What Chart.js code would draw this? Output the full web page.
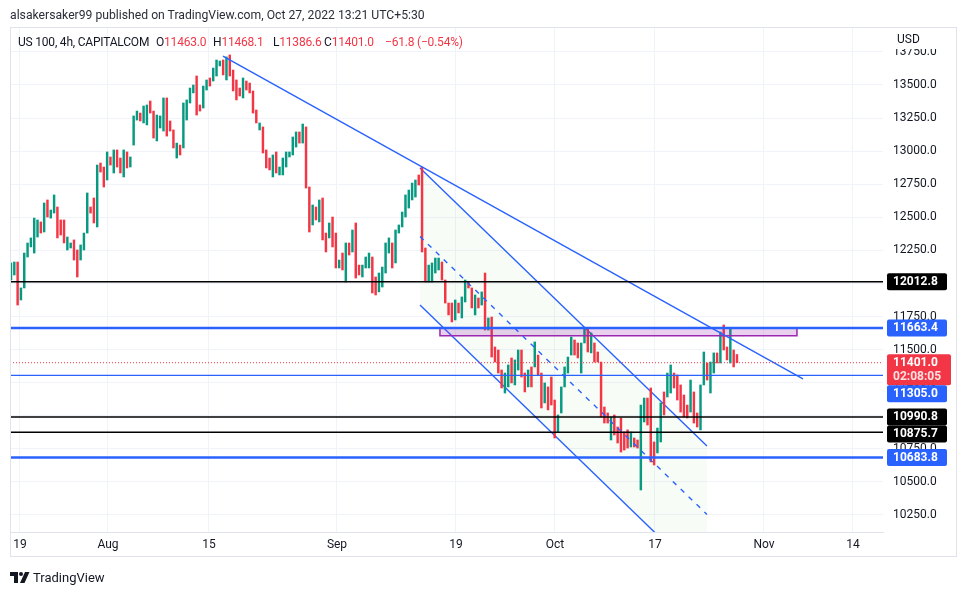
<!DOCTYPE html>
<html>
<head>
<meta charset="utf-8">
<script src="https://cdn.jsdelivr.net/npm/chart.js@4.4.1/dist/chart.umd.min.js"></script>
<style>
  body { margin: 0; background: #fff; font-family: Roboto, "Liberation Sans", sans-serif; }
  #wrap { position: relative; width: 966px; height: 595px; overflow: hidden; }
  #chart { position: absolute; left: 0; top: 0; }
  .t { position: absolute; white-space: pre; color: #131722; font-size: 12px; line-height: 16px; letter-spacing: -0.2px; }
  .r { color: #f23645; }
</style>
</head>
<body>
<div id="wrap">
  <canvas id="chart" width="966" height="595"></canvas>
  <div class="t" style="left:10px;top:7px;font-size:12.2px;color:#2a2e39;letter-spacing:0">alsakersaker99 published on TradingView.com, Oct 27, 2022 13:21 UTC+5:30</div>
  <div class="t" style="left:18px;top:34px">US 100, 4h, CAPITALCOM</div>
  <div class="t" style="left:156px;top:34px">O<span class="r">11463.0</span></div>
  <div class="t" style="left:213px;top:34px">H<span class="r">11468.1</span></div>
  <div class="t" style="left:273px;top:34px">L<span class="r">11386.6</span></div>
  <div class="t" style="left:324px;top:34px">C<span class="r">11401.0</span></div>
  <div class="t r" style="left:385px;top:34px">−61.8 (−0.54%)</div>
  <svg style="position:absolute;left:10px;top:572px" width="20" height="11" viewBox="0 0 20 11">
    <path d="M0 0h8v11h-4v-7h-4z" fill="#131722"/>
    <circle cx="11" cy="2" r="2" fill="#131722"/>
    <path d="M15 0h4.5l-5 11h-4.5z" fill="#131722"/>
  </svg>
  <div class="t" style="left:33px;top:570px;font-size:13px;letter-spacing:0">TradingView</div>
</div>

<script>
// 4h candles, Jul 18 - Oct 27 2022 (x = bar index)
const opens = [
  12026, 12064, 12162, 11875, 11966, 12200, 12276, 12230, 12351, 12465,
  12389, 12631, 12494, 12532, 12578, 12480, 12480, 12253, 12268, 12329,
  12253, 12177, 12253, 12381, 12578, 12646, 12427, 12910, 12880, 12782,
  12956, 12835, 13009, 12948, 12805, 12994, 12880, 13046, 13235, 13288,
  13213, 13198, 13379, 13303, 13077, 13175, 13152, 13402, 13228, 13160,
  12948, 13046, 13024, 13235, 13364, 13440, 13568, 13349, 13326, 13462,
  13553, 13530, 13568, 13644, 13689, 13538, 13727, 13613, 13538, 13477,
  13402, 13530, 13515, 13455, 13311, 13160, 13183, 13009, 12948, 12805,
  12994, 12820, 12820, 12880, 12956, 12971, 13031, 13145, 13061, 13183,
  12729, 12442, 12578, 12465, 12646, 12381, 12344, 12502, 12381, 12117,
  12230, 12011, 12306, 12238, 12457, 12139, 12049, 12117, 12117, 12200,
  12049, 11936, 11973, 12079, 12230, 12306, 12155, 12381, 12427, 12502,
  12570, 12631, 12653, 12820, 12880, 12268, 12011, 12011, 12079, 12102,
  12162, 12026, 11852, 11852, 11724, 11852, 11739, 11860, 12011, 11966,
  11762, 11890, 11837, 12079, 11648, 11746, 11520, 11497, 11346, 11172,
  11218, 11437, 11233, 11346, 11497, 11323, 11218, 11369, 11369, 11459,
  11323, 11097, 11218, 11293, 11119, 10877, 11021, 11218, 11323, 11459,
  11573, 11550, 11323, 11550, 11663, 11475, 11550, 11482, 11406, 11066,
  11021, 10817, 11006, 10915, 10983, 10877, 10893, 10764, 10832, 10817,
  10439, 10953, 11134, 11210, 10802, 10719, 10802, 11180, 11142, 11172,
  11323, 11308, 11233, 11157, 11081, 11028, 11180, 11021, 10893, 11233,
  11399, 11172, 11323, 11475, 11399, 11686, 11520, 11399, 11497, 11463
];
const closes = [
  12155, 12162, 11837, 11966, 12230, 12306, 12344, 12494, 12480, 12381,
  12608, 12502, 12555, 12669, 12344, 12366, 12306, 12351, 12306, 12177,
  12049, 12291, 12381, 12684, 12532, 12457, 12895, 12842, 12729, 12994,
  12895, 13009, 12880, 12835, 13009, 12873, 12956, 13266, 13303, 13228,
  13341, 13349, 13288, 13099, 13273, 13266, 13402, 13114, 13152, 13024,
  13061, 12971, 13364, 13387, 13477, 13500, 13273, 13303, 13492, 13538,
  13492, 13628, 13689, 13681, 13576, 13712, 13568, 13455, 13387, 13417,
  13553, 13462, 13440, 13288, 13213, 13213, 12986, 12873, 12858, 12971,
  12835, 12880, 12948, 12994, 12994, 13107, 13145, 13061, 13205, 12721,
  12389, 12593, 12480, 12631, 12329, 12238, 12457, 12276, 12117, 12177,
  12102, 12306, 12215, 12404, 12041, 12064, 12139, 12200, 12230, 11928,
  11913, 12079, 12124, 12306, 12344, 12117, 12404, 12442, 12540, 12669,
  12706, 12759, 12782, 12744, 12238, 12011, 12139, 12155, 12192, 12192,
  12026, 11852, 11762, 11709, 11875, 11777, 11898, 12026, 11966, 11815,
  11913, 11815, 11936, 11648, 11739, 11444, 11406, 11323, 11210, 11323,
  11384, 11248, 11422, 11497, 11293, 11180, 11346, 11218, 11558, 11308,
  11059, 11248, 11044, 11081, 10832, 11006, 11218, 11369, 11444, 11595,
  11459, 11437, 11550, 11663, 11482, 11626, 11406, 11406, 10991, 10945,
  10945, 10991, 10855, 10794, 10726, 10741, 10756, 10877, 10764, 10756,
  11081, 11134, 10930, 10651, 10628, 10907, 11097, 11006, 11323, 11384,
  11210, 11119, 11028, 10991, 10983, 11270, 10945, 10915, 11233, 11482,
  11270, 11406, 11475, 11399, 11633, 11497, 11422, 11663, 11369, 11401
];

const xTickPos = [2.71, 29.26, 59.73, 98.34, 134.24, 164.1, 194.27, 227.15, 254.0];
const xTickLabels = ['19', 'Aug', '15', 'Sep', '19', 'Oct', '17', 'Nov', '14'];
const yTicks = [10250, 10500, 10750, 11000, 11250, 11500, 11750, 12000, 12250, 12500, 12750, 13000, 13250, 13500, 13750];

// horizontal levels and the last price
const levels = [12012.8, 11663.4, 11305.0, 10990.8, 10875.7, 10683.8];
const lastPrice = 11401.0;
const countdown = '02:08:05';

// drawings: [bar index, price]
const trendLine = [[63.95, 13719], [238.9, 11278]];
const channelTop = [[123.38, 12873], [209.95, 10771]];
const channelMid = [[123.38, 12355], [209.95, 10254]];
const channelBottom = [[123.38, 11837], [209.95, 9736]];
const zoneX = [129.4, 237.1];
const zoneY = [11605, 11663.4];

const X_MIN = -0.30, X_MAX = 263.05;
const GREEN = '#089981', RED = '#f23645', BLUE = '#2962ff';
const levelStyle = {
  12012.8: { color: '#000000', width: 1.5 },
  11663.4: { color: BLUE, width: 2.5 },
  11305.0: { color: BLUE, width: 1.2 },
  10990.8: { color: '#000000', width: 1.5 },
  10875.7: { color: '#000000', width: 1.5 },
  10683.8: { color: BLUE, width: 2.5 }
};

Chart.defaults.font.family = 'Roboto, "Liberation Sans", sans-serif';
Chart.defaults.font.size = 12;
Chart.defaults.color = '#131722';

function lineSet(points, extra) {
  return Object.assign({
    type: 'line',
    data: points.map(p => ({ x: p[0], y: p[1] })),
    pointRadius: 0,
    borderWidth: 1.4,
    borderColor: BLUE,
    tension: 0,
    fill: false,
    order: 1
  }, extra);
}

const datasets = [
  // channel background, filled down to the next dataset
  lineSet(channelTop, { fill: '+1', backgroundColor: 'rgba(76,175,80,0.045)', order: 10 }),
  lineSet(channelBottom, { order: 9 }),
  lineSet(channelMid, { borderDash: [5, 6], order: 1 }),
  lineSet(trendLine, { order: 1 }),
  {
    type: 'bar',
    data: opens.map((o, i) => ({ x: i, y: [o, closes[i]] })),
    backgroundColor: closes.map((c, i) => c >= opens[i] ? GREEN : RED),
    barThickness: 1.8,
    grouped: false,
    order: 5
  },
  lineSet([[zoneX[0], zoneY[1]], [zoneX[1], zoneY[1]], [zoneX[1], zoneY[0]], [zoneX[0], zoneY[0]], [zoneX[0], zoneY[1]]],
    { borderColor: '#9c27b0', borderWidth: 1.5, backgroundColor: 'rgba(156,39,176,0.22)', fill: 'shape', order: 2 }),
  lineSet([[X_MIN, lastPrice], [X_MAX, lastPrice]], { borderColor: RED, borderWidth: 1, borderDash: [1, 2], order: 0 })
];
levels.forEach(v => {
  datasets.push(lineSet([[X_MIN, v], [X_MAX, v]], {
    borderColor: levelStyle[v].color, borderWidth: levelStyle[v].width, order: 0
  }));
});

// price-scale labels, frame and currency
const overlay = {
  id: 'overlay',
  afterDraw(chart) {
    const ctx = chart.ctx;
    const yS = chart.scales.y;
    ctx.save();
    ctx.strokeStyle = '#e0e3eb';
    ctx.lineWidth = 1;
    ctx.strokeRect(10.5, 27.5, 946, 529);

    ctx.fillStyle = '#ffffff';
    ctx.fillRect(884, 28, 72, 21);
    ctx.fillStyle = '#131722';
    ctx.font = '12px Roboto, "Liberation Sans", sans-serif';
    ctx.textBaseline = 'middle';
    ctx.textAlign = 'left';
    ctx.fillText('USD', 897, 40);

    const boxes = levels.map(v => ({ v, color: levelStyle[v].color, h: 17, w: 60 }));
    boxes.push({ v: lastPrice, color: RED, h: 31, w: 64, sub: countdown });
    boxes.sort((a, b) => b.v - a.v);
    let prevBottom = -Infinity;
    ctx.font = 'bold 12px Roboto, "Liberation Sans", sans-serif';
    boxes.forEach(b => {
      let top = yS.getPixelForValue(b.v) - 8.5;
      if (top < prevBottom) top = prevBottom;
      prevBottom = top + b.h;
      ctx.fillStyle = b.color;
      ctx.beginPath();
      ctx.roundRect(887, top, b.w, b.h, 2);
      ctx.fill();
      ctx.fillStyle = '#ffffff';
      ctx.fillText(b.v.toFixed(1), 893, top + 9);
      if (b.sub) {
        ctx.fillStyle = 'rgba(255,255,255,0.85)';
        ctx.fillText(b.sub, 893, top + 23);
      }
    });
    ctx.restore();
  }
};

new Chart(document.getElementById('chart'), {
  type: 'bar',
  data: { datasets },
  options: {
    responsive: false,
    animation: false,
    layout: { padding: { left: 10, right: 0, top: 27, bottom: 39 } },
    plugins: { legend: { display: false }, tooltip: { enabled: false } },
    scales: {
      x: {
        type: 'linear',
        min: X_MIN,
        max: X_MAX,
        offset: false,
        afterBuildTicks: a => { a.ticks = xTickPos.map(v => ({ value: v })); },
        afterFit: a => { a.height = 24; },
        ticks: { autoSkip: false, maxRotation: 0, padding: 6, callback: (v, i) => xTickLabels[i] },
        grid: { color: '#f0f3fa', drawTicks: false, offset: false },
        border: { color: '#e0e3eb' }
      },
      y: {
        position: 'right',
        min: 10121.5,
        max: 13938.3,
        afterBuildTicks: a => { a.ticks = yTicks.map(v => ({ value: v })); },
        afterFit: a => { a.width = 83; },
        ticks: { padding: 10, callback: v => v.toFixed(1) },
        grid: { color: '#f0f3fa', drawTicks: false },
        border: { display: false }
      }
    }
  },
  plugins: [overlay]
});
</script>
</body>
</html>
